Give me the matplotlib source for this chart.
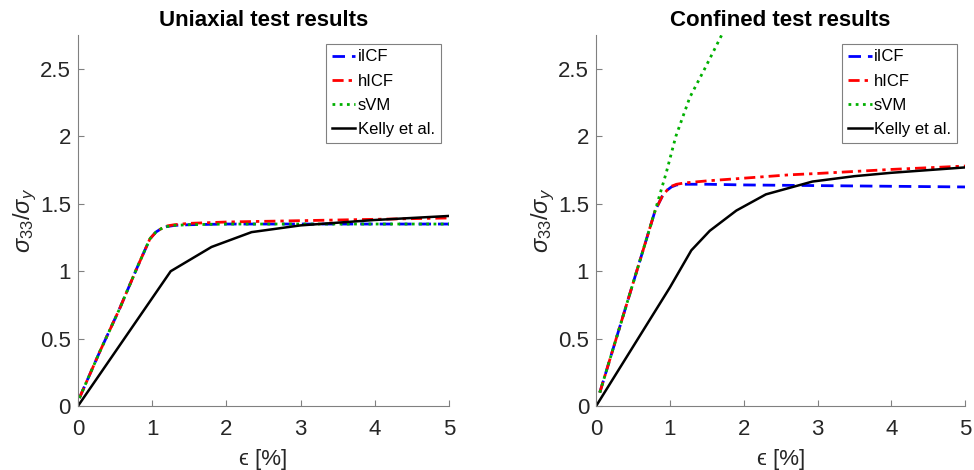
import numpy as np
import matplotlib
matplotlib.use('Agg')
import matplotlib.pyplot as plt

plt.rcParams['font.family'] = ['Liberation Sans', 'DejaVu Sans']
plt.rcParams['mathtext.fontset'] = 'custom'
plt.rcParams['mathtext.rm'] = 'Liberation Sans'
plt.rcParams['mathtext.it'] = 'Liberation Sans:italic'

# uniaxial test (left)
uni_iicf_x = [0.02, 0.3, 0.56, 0.8, 0.97, 1.05, 1.12, 1.19, 1.3, 1.5, 2.0, 3.0, 4.0, 5.0]
uni_iicf_y = [0.06, 0.41, 0.72, 1.03, 1.24, 1.29, 1.315, 1.33, 1.34, 1.345, 1.35, 1.35, 1.35, 1.35]
uni_hicf_x = [0.02, 0.3, 0.56, 0.8, 0.97, 1.05, 1.12, 1.19, 1.3, 1.5, 2.0, 2.5, 3.0, 4.0, 5.0]
uni_hicf_y = [0.06, 0.41, 0.72, 1.03, 1.24, 1.29, 1.315, 1.335, 1.345, 1.355, 1.365, 1.37, 1.375, 1.385, 1.395]
uni_svm_x = [0.02, 0.3, 0.56, 0.8, 0.97, 1.05, 1.12, 1.19, 1.3, 1.5, 2.0, 3.0, 4.0, 5.0]
uni_svm_y = [0.06, 0.41, 0.72, 1.03, 1.24, 1.29, 1.315, 1.33, 1.34, 1.345, 1.35, 1.35, 1.35, 1.35]
uni_kelly_x = [0, 1.25, 1.8, 2.34, 3.0, 4.0, 5.0]
uni_kelly_y = [0, 1.0, 1.18, 1.29, 1.34, 1.38, 1.41]

# confined test (right)
con_iicf_x = [0.05, 0.4, 0.8, 0.9, 0.96, 1.02, 1.09, 1.2, 1.5, 2.0, 3.0, 4.0, 5.0]
con_iicf_y = [0.1, 0.73, 1.45, 1.56, 1.6, 1.625, 1.64, 1.645, 1.645, 1.64, 1.635, 1.63, 1.625]
con_hicf_x = [0.05, 0.4, 0.8, 0.9, 0.96, 1.02, 1.09, 1.2, 1.5, 2.0, 2.62, 3.0, 4.0, 5.0]
con_hicf_y = [0.1, 0.73, 1.45, 1.56, 1.6, 1.63, 1.645, 1.655, 1.67, 1.69, 1.715, 1.725, 1.755, 1.78]
con_svm_x = [0.05, 0.4, 0.8, 0.95, 1.08, 1.27, 1.47, 1.7]
con_svm_y = [0.1, 0.73, 1.45, 1.73, 2.0, 2.29, 2.5, 2.75]
con_kelly_x = [0, 1.0, 1.29, 1.54, 1.9, 2.3, 2.93, 3.5, 4.0, 5.0]
con_kelly_y = [0, 0.88, 1.155, 1.3, 1.45, 1.57, 1.665, 1.705, 1.73, 1.77]

labels = ['iICF', 'hICF', 'sVM', 'Kelly et al.']
titles = ['Uniaxial test results', 'Confined test results']

fig = plt.figure(figsize=(9.74, 4.7), dpi=100)
ax1 = fig.add_axes([0.080, 0.136, 0.381, 0.789])
ax2 = fig.add_axes([0.612, 0.136, 0.379, 0.789])

data = [
    (uni_iicf_x, uni_iicf_y, uni_hicf_x, uni_hicf_y, uni_svm_x, uni_svm_y, uni_kelly_x, uni_kelly_y),
    (con_iicf_x, con_iicf_y, con_hicf_x, con_hicf_y, con_svm_x, con_svm_y, con_kelly_x, con_kelly_y),
]

grey = '#262626'
for ax, d, title in zip([ax1, ax2], data, titles):
    ax.plot(d[0], d[1], color='#0000ff', ls=(0, (4.5, 2.5)), lw=2, label=labels[0])
    ax.plot(d[2], d[3], color='#ff0000', ls=(0, (4, 1.8, 1.2, 1.8)), lw=2, label=labels[1])
    ax.plot(d[4], d[5], color='#00b000', ls=(0, (1, 1.6)), lw=2, label=labels[2])
    ax.plot(d[6], d[7], color='black', lw=1.8, label=labels[3])
    ax.set_xlim(0, 5)
    ax.set_ylim(0, 2.75)
    ax.set_xticks([0, 1, 2, 3, 4, 5])
    ax.set_yticks([0, 0.5, 1, 1.5, 2, 2.5])
    ax.set_yticklabels(['0', '0.5', '1', '1.5', '2', '2.5'])
    ax.spines['top'].set_visible(False)
    ax.spines['right'].set_visible(False)
    for s in ['left', 'bottom']:
        ax.spines[s].set_color('#808080')
        ax.spines[s].set_linewidth(0.8)
    ax.tick_params(direction='in', length=4, width=0.8, color='#808080',
                   labelsize=16, labelcolor=grey)
    ax.tick_params(axis='x', pad=9)
    ax.tick_params(axis='y', pad=5)
    ax.set_title(title, fontsize=16, fontweight='bold', pad=7)
    ax.set_xlabel('\u03f5 [%]', fontsize=16, color=grey, labelpad=7)
    ax.set_ylabel(r'$\sigma_{33}/\sigma_{y}$', fontsize=17, color=grey, labelpad=1)
    leg = ax.legend(loc='upper right', fontsize=12, handlelength=1.4,
                    handletextpad=0.15, labelspacing=0.55, borderpad=0.35,
                    borderaxespad=0.5, fancybox=False, framealpha=1)
    leg.get_frame().set_edgecolor('#808080')
    leg.get_frame().set_linewidth(0.8)

fig.savefig('out.png', dpi=100)
